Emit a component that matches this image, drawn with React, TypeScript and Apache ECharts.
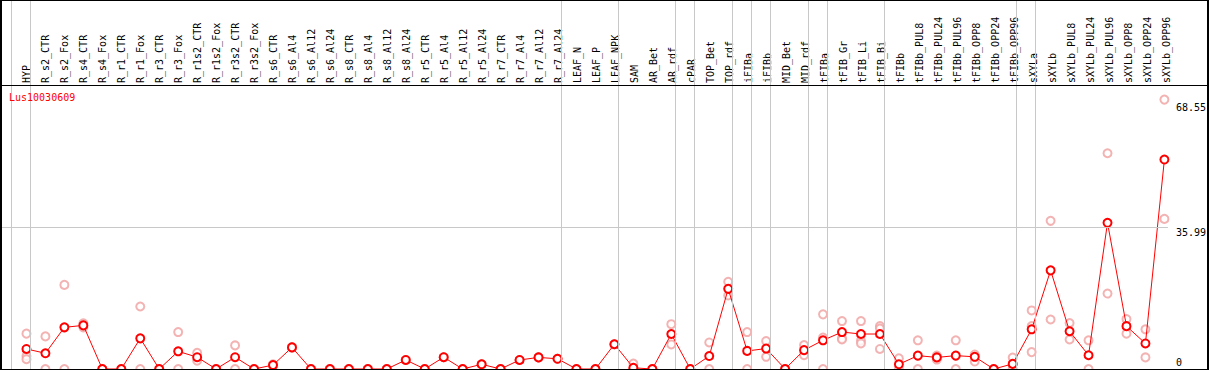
import React, { useEffect, useRef } from "react";
import * as echarts from "echarts";

const title = "Lus10030609";

const categories = [
  "HYP", "R_s2_CTR", "R_s2_Fox", "R_s4_CTR", "R_s4_Fox", "R_r1_CTR", "R_r1_Fox", "R_r3_CTR", "R_r3_Fox",
  "R_r1s2_CTR", "R_r1s2_Fox", "R_r3s2_CTR", "R_r3s2_Fox", "R_s6_CTR", "R_s6_Al4", "R_s6_Al12", "R_s6_Al24",
  "R_s8_CTR", "R_s8_Al4", "R_s8_Al12", "R_s8_Al24", "R_r5_CTR", "R_r5_Al4", "R_r5_Al12", "R_r5_Al24",
  "R_r7_CTR", "R_r7_Al4", "R_r7_Al12", "R_r7_Al24", "LEAF_N", "LEAF_P", "LEAF_NPK", "SAM", "AR_Bet", "AR_rdf",
  "cPAR", "TOP_Bet", "TOP_rdf", "iFIBa", "iFIBb", "MID_Bet", "MID_rdf", "tFIBa", "tFIB_Gr", "tFIB_Li", "tFIB_Bi",
  "tFIBb", "tFIBb_PUL8", "tFIBb_PUL24", "tFIBb_PUL96", "tFIBb_OPP8", "tFIBb_OPP24", "tFIBb_OPP96",
  "sXYLa", "sXYLb", "sXYLb_PUL8", "sXYLb_PUL24", "sXYLb_PUL96", "sXYLb_OPP8", "sXYLb_OPP24", "sXYLb_OPP96",
];

const means = [
  5.1, 4.0, 10.6, 11.1, 0, 0, 7.8, 0, 4.5,
  3.0, 0, 3.0, 0, 1.0, 5.5, 0, 0,
  0, 0, 0, 2.3, 0, 3.0, 0, 1.2,
  0, 2.3, 2.95, 2.6, 0, 0, 6.3, 0.3, 0, 8.9,
  0, 3.3, 20.4, 4.6, 5.2, 0, 4.8, 7.3, 9.4, 8.9, 8.9,
  1.2, 3.4, 2.95, 3.4, 3.1, 0, 1.3,
  10.1, 25.1, 9.6, 3.5, 37.2, 10.9, 6.5, 53.3,
];

const replicates = [
  [9.0, 3.3, 2.5], [8.3, 0], [21.4, 0], [11.6, 10.6], [0, 0], [0, 0], [15.9, 0], [0, 0], [9.4, 0],
  [4.1, 2.1], [0, 0], [6.0, 0], [0, 0], [1.2, 0.8], [5.6, 5.4], [0, 0], [0, 0],
  [0, 0], [0, 0], [0, 0], [2.3, 2.3], [0, 0], [3.0, 3.0], [0, 0], [1.2, 1.2],
  [0, 0], [2.3, 2.3], [2.95, 2.95], [2.6, 2.6], [0, 0], [0, 0], [6.3, 6.3], [1.4, 0], [0, 0], [11.4, 6.25],
  [0, 0], [6.75, 0], [22.2, 18.7], [9.4, 0], [7.1, 3.1], [0, 0], [6.1, 3.5], [13.9, 8.0, 0], [12.2, 7.8, 7.5], [12.2, 7.2, 6.5], [10.9, 10.3, 5.1],
  [2.7, 0], [7.3, 0], [3.4, 2.4], [7.3, 0], [3.7, 1.9], [0, 0], [2.9, 0],
  [14.9, 10.9, 4.3], [37.7, 12.6], [11.7, 7.5], [7.3, 0], [54.9, 19.2], [12.7, 9.0], [10.1, 2.95], [68.55, 38.2],
];

const yTicks = [0, 35.99, 68.55];
const gridLineValues = [35.99];
const groupEnds = [-1, 0, 28, 31, 34, 35, 37, 38, 39, 41, 42, 45, 52, 53, 60];

const FONT = "'DejaVu Sans Mono', monospace";

export default function App() {
  const ref = useRef<HTMLDivElement>(null);
  useEffect(() => {
    if (!ref.current) return;
    const chart = echarts.init(ref.current, undefined, { renderer: "svg" });
    const repData: number[][] = [];
    replicates.forEach((arr, i) => arr.forEach((v) => repData.push([i, v])));
    const meanData = means.map((v, i) => [i, v]);
    const richFor: Record<string, any> = {
      t0: { padding: [0, 0, 14, 0], fontFamily: FONT, fontSize: 10, color: "#000" },
      t1: { padding: [9, 0, 0, 0], fontFamily: FONT, fontSize: 10, color: "#000" },
      t2: { padding: [15, 0, 0, 0], fontFamily: FONT, fontSize: 10, color: "#000" },
    };
    chart.setOption({
      animation: false,
      backgroundColor: "#fff",
      grid: [
        { left: 2, top: 1, width: 1168, height: 368, containLabel: false },
        { left: 17, top: 85, width: 1159, height: 10, containLabel: false },
      ],
      xAxis: [
        {
          type: "value",
          gridIndex: 0,
          min: -1.2895,
          max: 60.184,
          axisLine: { show: false },
          axisTick: { show: false },
          axisLabel: { show: false },
          splitLine: { show: false },
        },
        {
          type: "category",
          gridIndex: 1,
          position: "top",
          data: categories,
          boundaryGap: true,
          axisLine: { show: false },
          axisTick: { show: false },
          splitLine: { show: false },
          axisLabel: {
            interval: 0,
            rotate: 90,
            margin: 2,
            fontFamily: FONT,
            fontSize: 10,
            color: "#000",
          },
        },
      ],
      yAxis: [
        {
          type: "value",
          gridIndex: 0,
          position: "right",
          min: 0,
          max: 93.64,
          axisLine: { show: false },
          axisTick: { show: false },
          splitLine: { show: false },
          axisLabel: {
            show: true,
            customValues: yTicks,
            margin: 8,
            align: "left",
            fontFamily: FONT,
            fontSize: 10,
            color: "#000",
            formatter: (v: number) => {
              const k = yTicks.indexOf(v);
              return "{t" + (k < 0 ? 0 : k) + "|" + String(v) + "}";
            },
            rich: richFor,
          },
        },
        {
          type: "value",
          gridIndex: 1,
          show: false,
        },
      ],
      graphic: [
        { type: "rect", shape: { x: 0, y: 0, width: 1209, height: 1 }, style: { fill: "#000" }, z: 100 },
        { type: "rect", shape: { x: 0, y: 85, width: 1209, height: 1 }, style: { fill: "#000" }, z: 100 },
        { type: "rect", shape: { x: 0, y: 369, width: 1209, height: 1 }, style: { fill: "#000" }, z: 100 },
        { type: "rect", shape: { x: 0, y: 0, width: 2, height: 370 }, style: { fill: "#000" }, z: 100 },
        { type: "rect", shape: { x: 1207, y: 0, width: 2, height: 370 }, style: { fill: "#000" }, z: 100 },
        {
          type: "text",
          x: 9,
          y: 97,
          z: 100,
          style: {
            text: title,
            fill: "#ff0000",
            font: "10px " + FONT,
            verticalAlign: "middle",
          },
        },
      ],
      series: [
        {
          type: "line",
          xAxisIndex: 0,
          yAxisIndex: 0,
          data: [],
          silent: true,
          z: 1,
          markLine: {
            silent: true,
            symbol: "none",
            label: { show: false },
            lineStyle: { color: "#c8c8c8", width: 1, type: "solid" },
            data: [
              ...groupEnds.map((g) => ({ xAxis: g + 0.21 })),
              ...gridLineValues.map((v) => ({ yAxis: v })),
            ],
          },
        },
        {
          type: "line",
          xAxisIndex: 1,
          yAxisIndex: 1,
          data: categories.map(() => null),
          showSymbol: false,
          silent: true,
        },
        {
          type: "scatter",
          xAxisIndex: 0,
          yAxisIndex: 0,
          data: repData,
          symbol: "emptyCircle",
          symbolSize: 8,
          z: 2,
          itemStyle: { color: "#f0a0a0", borderColor: "#f0a0a0", borderWidth: 1.2 },
          silent: true,
        },
        {
          type: "line",
          xAxisIndex: 0,
          yAxisIndex: 0,
          data: meanData,
          symbol: "emptyCircle",
          symbolSize: 8,
          showAllSymbol: true,
          z: 3,
          lineStyle: { color: "#ff0000", width: 1 },
          itemStyle: { color: "#ff0000", borderColor: "#ff0000", borderWidth: 1.8 },
          silent: true,
        },
      ],
    });
    return () => chart.dispose();
  }, []);
  return (
    <div
      ref={ref}
      style={{ position: "absolute", left: 0, top: 0, width: 1209, height: 370 }}
    />
  );
}
